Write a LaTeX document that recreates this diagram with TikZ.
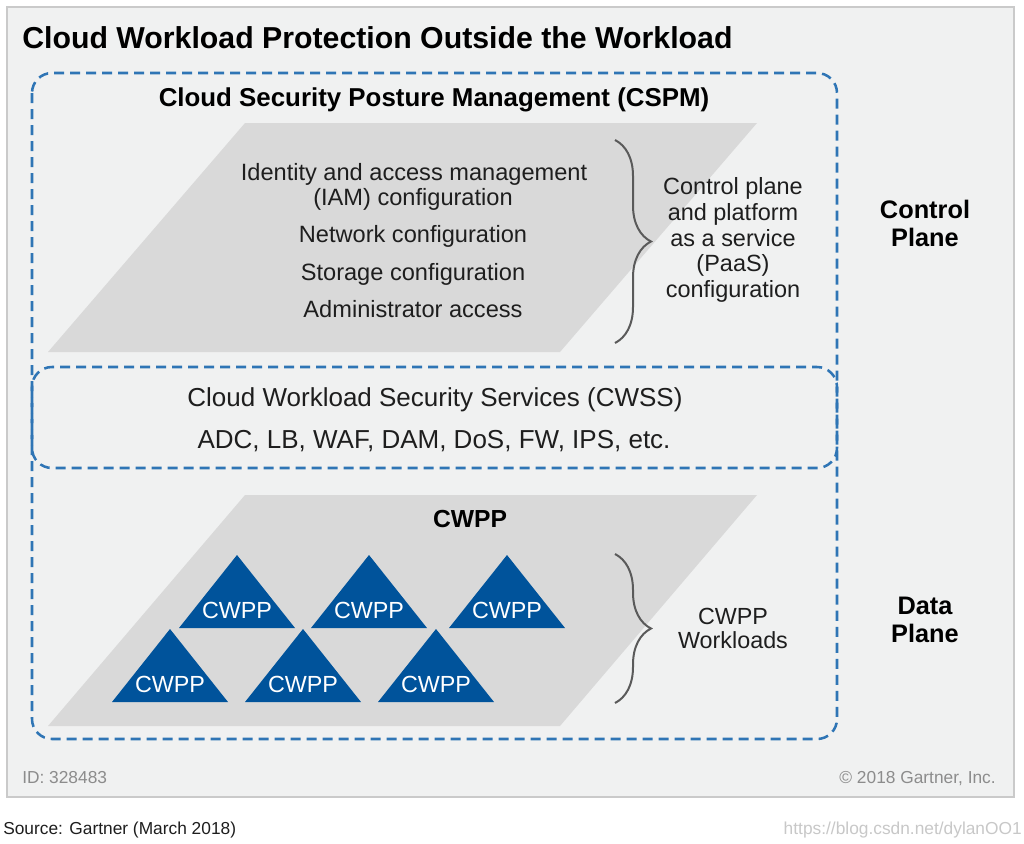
\documentclass[tikz,border=0pt]{standalone}
\usepackage{fontspec}
\setmainfont{Liberation Sans}
\usetikzlibrary{decorations.pathreplacing}

\definecolor{panelgray}{HTML}{F0F1F1}
\definecolor{edgegray}{HTML}{CACACA}
\definecolor{plategray}{HTML}{D9D9D9}
\definecolor{dashblue}{HTML}{2F75B5}
\definecolor{triblue}{HTML}{00539B}
\definecolor{bracegray}{HTML}{5A5A5A}
\definecolor{inkgray}{HTML}{1E1E1E}
\definecolor{notegray}{HTML}{8C8C8C}
\definecolor{linkgray}{HTML}{C8C8C8}

\tikzset{
	zone/.style={draw=dashblue,line width=1.9pt,dash pattern=on 7.5pt off 4.5pt,rounded corners=15pt},
	bracemark/.style={draw=bracegray,line width=1.5pt,decorate,decoration={brace,amplitude=27pt,aspect=0.5}},
	body/.style={inner sep=0pt,text=inkgray,font=\fontsize{17.7}{19.3}\selectfont},
	head/.style={inner sep=0pt,text=black,font=\fontsize{19}{21}\selectfont\bfseries},
	small/.style={inner sep=0pt,font=\fontsize{13}{15}\selectfont}
}

\begin{document}
\begin{tikzpicture}[x=0.75pt,y=-0.75pt]
	\useasboundingbox (0,0) rectangle (1024,843);
	\fill[white] (0,0) rectangle (1024,843);
	\filldraw[fill=panelgray,draw=edgegray,line width=1.5pt] (7,7) rectangle (1014,797);

	% gray plates
	\fill[plategray] (245,123) -- (757,123) -- (560,352) -- (48,352) -- cycle;
	\fill[plategray] (245,495) -- (757,495) -- (560,726) -- (48,726) -- cycle;

	% dashed zones
	\draw[zone] (32,73) rectangle (837,739);
	\draw[zone] (32,367) rectangle (837,468);

	\node[anchor=base west,inner sep=0pt,font=\fontsize{22.7}{26}\selectfont\bfseries] (title) at (22,48)
		{Cloud Workload Protection Outside the Workload};

	% control plane
	\node[head,anchor=base,font=\fontsize{19.4}{21}\selectfont\bfseries] (cspm-head) at (434,106)
		{Cloud Security Posture Management (CSPM)};
	\node[body,anchor=base] (iam) at (414,180) {Identity and access management};
	\node[body,anchor=base] (iam-conf) at (413,205) {(IAM) configuration};
	\node[body,anchor=base] (network) at (413,242) {Network configuration};
	\node[body,anchor=base] (storage) at (413,280) {Storage configuration};
	\node[body,anchor=base] (admin) at (413,317) {Administrator access};
	\coordinate (brace-a1) at (615,140);
	\coordinate (brace-a2) at (615,343);
	\draw[bracemark] (brace-a1) -- (brace-a2);
	\node[body,align=center,font=\fontsize{17.6}{19.3}\selectfont] (paas-note) at (733,240)
		{Control plane\\and platform\\as a service\\(PaaS)\\configuration};
	\node[head,align=center] (control-plane) at (925,223) {Control\\Plane};

	% CWSS
	\node[body,anchor=base,font=\fontsize{19.5}{21}\selectfont] (cwss-head) at (435,406)
		{Cloud Workload Security Services (CWSS)};
	\node[body,anchor=base,font=\fontsize{19.5}{21}\selectfont] (cwss-list) at (434,448)
		{ADC, LB, WAF, DAM, DoS, FW, IPS, etc.};

	% data plane
	\node[head,anchor=base,font=\fontsize{18.5}{21}\selectfont\bfseries] (cwpp-head) at (470,527) {CWPP};
	\foreach \x/\y/\n in {237/555/1, 369/555/2, 507/555/3, 170/629/4, 303/629/5, 436/629/6}{
		\fill[triblue] (\x,\y) -- ++(58,73) -- ++(-116,0) -- cycle;
		\node[body,anchor=base,text=white,font=\fontsize{17.5}{19}\selectfont] (cwpp-\n) at (\x,{\y+63}) {CWPP};
	}
	\coordinate (brace-b1) at (615,554);
	\coordinate (brace-b2) at (615,703);
	\draw[bracemark] (brace-b1) -- (brace-b2);
	\node[body,align=center,font=\fontsize{17.5}{18}\selectfont] (workloads-note) at (733,628) {CWPP\\Workloads};
	\node[head,align=center] (data-plane) at (925,620) {Data\\Plane};

	% footer
	\node[small,anchor=base west,text=notegray] (doc-id) at (22,783) {ID: 328483};
	\node[small,anchor=base east,text=notegray] (copyright) at (996,783) {© 2018 Gartner, Inc.};
	\node[small,anchor=base west,text=inkgray] (source) at (3,834) {Source: Gartner (March 2018)};
	\node[small,anchor=base east,text=linkgray] (weblink) at (1022,834) {https://blog.csdn.net/dylanOO1};
\end{tikzpicture}
\end{document}
